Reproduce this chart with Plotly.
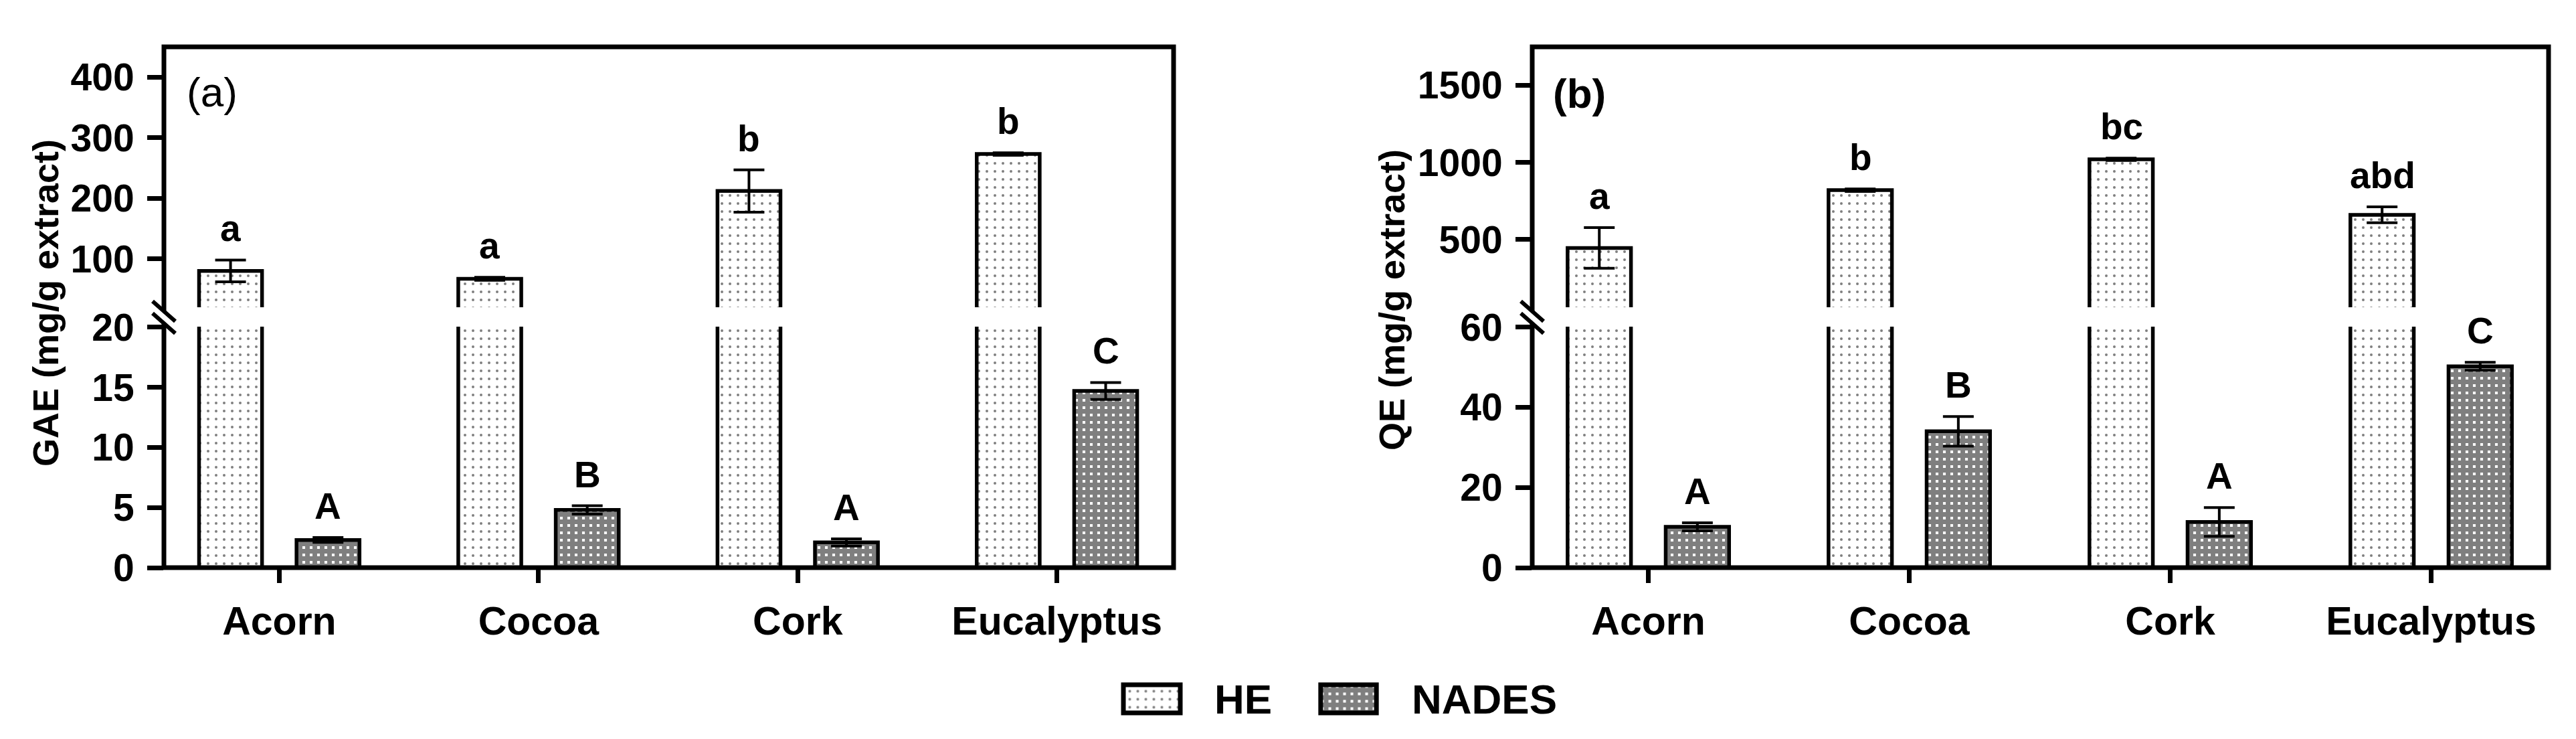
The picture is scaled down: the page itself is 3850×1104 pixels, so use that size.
import plotly.graph_objects as go

# ---- data ----
categories = ["Acorn", "Cocoa", "Cork", "Eucalyptus"]

gae_he = [80, 67, 212, 273]
gae_he_sd = [18, 2.5, 35, 2]
gae_nades = [2.3, 4.8, 2.1, 14.7]
gae_nades_sd = [0.2, 0.35, 0.3, 0.7]
gae_he_letters = ["a", "a", "b", "b"]
gae_nades_letters = ["A", "B", "A", "C"]

qe_he = [445, 820, 1020, 660]
qe_he_sd = [132, 8, 8, 52]
qe_nades = [10.2, 34, 11.4, 50.2]
qe_nades_sd = [1.0, 3.7, 3.6, 1.0]
qe_he_letters = ["a", "b", "bc", "abd"]
qe_nades_letters = ["A", "B", "A", "C"]

gae_low_ticks = [0, 5, 10, 15, 20]
gae_up_ticks = [100, 200, 300, 400]
qe_low_ticks = [0, 20, 40, 60]
qe_up_ticks = [500, 1000, 1500]

# ---- geometry (pixels of the 3850x1104 page) ----
W, H = 3850, 1104
FONT = "Liberation Sans, Arial, sans-serif"


def px(x):
    return x / W


def py(y):
    return 1 - y / H


A_X = [px(237), px(1746)]
B_X = [px(2282), px(3801)]
LOW_Y = [py(840), py(480)]
UP_Y = [py(451), py(62)]

BAR_W = 0.243
HE_OFF = -0.188 - BAR_W / 2
NA_OFF = 0.188 - BAR_W / 2
SHIFT = 73

he_marker = dict(
    color="white",
    line=dict(color="black", width=5.5),
    pattern=dict(shape=".", size=12, solidity=0.09, fgcolor="black",
                 bgcolor="white", fillmode="overlay"),
)
na_marker = dict(
    color="white",
    line=dict(color="black", width=5.5),
    pattern=dict(shape="+", size=11, solidity=0.86, fgcolor="black",
                 bgcolor="white", fillmode="overlay"),
)


def err(vals):
    return dict(type="data", array=vals, visible=True, color="black",
                thickness=4, width=23)


fig = go.Figure()

panels = [
    ("x", "y", "y2", gae_he, gae_he_sd, gae_nades, gae_nades_sd),
    ("x2", "y3", "y4", qe_he, qe_he_sd, qe_nades, qe_nades_sd),
]
for xa, ylow, yup, he, he_sd, na, na_sd in panels:
    # lower segment of the broken axis
    fig.add_trace(go.Bar(x=categories, y=he, width=BAR_W, offset=HE_OFF,
                         marker=he_marker, xaxis=xa, yaxis=ylow,
                         showlegend=False, hoverinfo="skip"))
    fig.add_trace(go.Bar(x=categories, y=na, width=BAR_W, offset=NA_OFF,
                         marker=na_marker, error_y=err(na_sd),
                         xaxis=xa, yaxis=ylow, showlegend=False))
    # upper segment
    fig.add_trace(go.Bar(x=categories, y=he, width=BAR_W, offset=HE_OFF,
                         marker=he_marker, error_y=err(he_sd),
                         xaxis=xa, yaxis=yup, showlegend=False))

# legend swatches (own tiny subplots so the pattern can be shown large)
fig.add_trace(go.Bar(x=[0], y=[1], width=1,
                     marker=dict(he_marker, line=dict(color="black", width=7)),
                     xaxis="x3", yaxis="y5", showlegend=False, hoverinfo="skip"))
fig.add_trace(go.Bar(x=[0], y=[1], width=1,
                     marker=dict(na_marker, line=dict(color="black", width=7)),
                     xaxis="x4", yaxis="y6", showlegend=False, hoverinfo="skip"))

tick_font = dict(family=FONT, size=57, color="black", weight="bold")
xcommon = dict(type="category", categoryorder="array", categoryarray=categories,
               range=[-0.445, 3.45], showline=False, showgrid=False, zeroline=False,
               ticks="outside", ticklen=22, tickwidth=7, tickcolor="black",
               tickfont=dict(family=FONT, size=59, color="black", weight="bold"),
               ticklabelstandoff=6, automargin=False)
ycommon = dict(showline=False, showgrid=False, zeroline=False, ticks="outside",
               ticklen=24, tickwidth=7, tickcolor="black", tickfont=tick_font,
               ticklabelstandoff=8, tickmode="array", automargin=False)
hidden = dict(visible=False, fixedrange=True, automargin=False)

fig.update_layout(
    template="none",
    width=W, height=H, autosize=False,
    margin=dict(l=0, r=0, t=0, b=0, pad=0, autoexpand=False),
    paper_bgcolor="white", plot_bgcolor="rgba(0,0,0,0)",
    barmode="overlay", showlegend=False,
    xaxis=dict(xcommon, domain=A_X, anchor="y"),
    xaxis2=dict(xcommon, domain=B_X, anchor="y3"),
    yaxis=dict(ycommon, domain=LOW_Y, anchor="x", range=[0, 20.05], tickvals=gae_low_ticks),
    yaxis2=dict(ycommon, domain=UP_Y, anchor="x", range=[20, 450], tickvals=gae_up_ticks),
    yaxis3=dict(ycommon, domain=LOW_Y, anchor="x2", range=[0, 60.1], tickvals=qe_low_ticks),
    yaxis4=dict(ycommon, domain=UP_Y, anchor="x2", range=[60, 1750], tickvals=qe_up_ticks),
    xaxis3=dict(hidden, domain=[px(1662.5), px(1764.5)], anchor="y5", range=[-0.6, 0.6]),
    yaxis5=dict(hidden, domain=[py(1065.4), py(1006.6)], anchor="x3", range=[-0.2, 1.2]),
    xaxis4=dict(hidden, domain=[px(1957.5), px(2057.5)], anchor="y6", range=[-0.6, 0.6]),
    yaxis6=dict(hidden, domain=[py(1065.4), py(1006.6)], anchor="x4", range=[-0.2, 1.2]),
)

# frames and axis-break marks
shapes = []
for X in (A_X, B_X):
    shapes.append(dict(type="rect", xref="paper", yref="paper", x0=X[0], x1=X[1],
                       y0=LOW_Y[0], y1=UP_Y[1], line=dict(color="black", width=7),
                       fillcolor="rgba(0,0,0,0)", layer="above"))
for left_px in (237, 2282):
    cy = 466
    shapes.append(dict(type="line", xref="paper", yref="paper",
                       x0=px(left_px - 16), y0=py(cy - 15), x1=px(left_px + 17), y1=py(cy + 15),
                       line=dict(color="white", width=9), layer="above"))
    for dy in (-9, 9):
        shapes.append(dict(type="line", xref="paper", yref="paper",
                           x0=px(left_px - 17), y0=py(cy + dy - 15),
                           x1=px(left_px + 17), y1=py(cy + dy + 15),
                           line=dict(color="black", width=6), layer="above"))
fig.update_layout(shapes=shapes)

# significance letters above bars
letter_font = dict(family=FONT, size=55, color="black", weight="bold")
ann = []
for xa, ylow, yup, he, he_sd, na, na_sd, hl, nl in [
    ("x", "y", "y2", gae_he, gae_he_sd, gae_nades, gae_nades_sd, gae_he_letters, gae_nades_letters),
    ("x2", "y3", "y4", qe_he, qe_he_sd, qe_nades, qe_nades_sd, qe_he_letters, qe_nades_letters),
]:
    for i, c in enumerate(categories):
        ann.append(dict(x=c, y=he[i] + he_sd[i], xref=xa, yref=yup, text=hl[i],
                        showarrow=False, xshift=-SHIFT, yshift=14, yanchor="bottom",
                        xanchor="center", font=letter_font))
        ann.append(dict(x=c, y=na[i] + na_sd[i], xref=xa, yref=ylow, text=nl[i],
                        showarrow=False, xshift=SHIFT, yshift=14, yanchor="bottom",
                        xanchor="center", font=letter_font))

title_font = dict(family=FONT, size=54, color="black", weight="bold")
paper_txt = dict(xref="paper", yref="paper", showarrow=False, xanchor="center", yanchor="middle")
ann += [
    dict(paper_txt, text="GAE (mg/g extract)", x=px(60), y=py(445), textangle=-90, font=title_font),
    dict(paper_txt, text="QE (mg/g extract)", x=px(2072), y=py(440), textangle=-90, font=title_font),
    dict(paper_txt, text="(a)", x=px(309), y=py(129),
         font=dict(family=FONT, size=62, color="black")),
    dict(paper_txt, text="(b)", x=px(2352), y=py(132),
         font=dict(family=FONT, size=62, color="black", weight="bold")),
    dict(paper_txt, text="HE", x=px(1805), y=py(1036), xanchor="left",
         font=dict(family=FONT, size=62, color="black", weight="bold")),
    dict(paper_txt, text="NADES", x=px(2100), y=py(1036), xanchor="left",
         font=dict(family=FONT, size=62, color="black", weight="bold")),
]
fig.update_layout(annotations=ann)

fig.write_html("out.html")
